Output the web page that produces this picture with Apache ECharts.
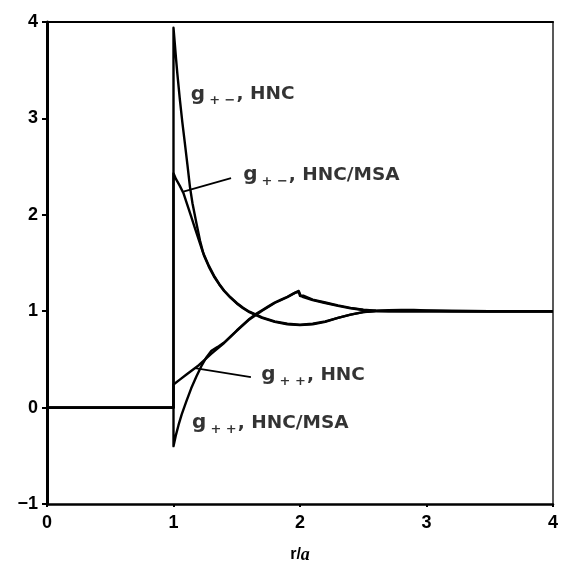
<!DOCTYPE html>
<html>
<head>
<meta charset="utf-8">
<script src="https://cdn.jsdelivr.net/npm/echarts@6/dist/echarts.min.js"></script>
<style>
  html, body { margin: 0; padding: 0; background: #fff; }
  #chart { width: 561px; height: 569px; }
</style>
</head>
<body>
<div id="chart"></div>
<script>
// Axis ranges (r/a and g)
const xTicks = [0, 1, 2, 3, 4];
const yTicks = [-1, 0, 1, 2, 3, 4];

// Hard-core region: g = 0 for r < a
const coreR = [0, 1];
const coreG = [0, 0];

// g+-, HNC
const rPmHnc = [1.00, 1.00, 1.01, 1.02, 1.03, 1.05, 1.07, 1.09, 1.11, 1.13, 1.15, 1.18, 1.21, 1.24, 1.28, 1.32, 1.36, 1.40, 1.45, 1.50, 1.55, 1.60, 1.70, 1.80, 1.90, 2.00, 2.10, 2.20, 2.30, 2.40, 2.50, 2.60, 2.70, 2.80, 2.90, 3.00, 3.20, 3.50, 4.00];
const gPmHnc = [0.00, 3.94, 3.78, 3.62, 3.47, 3.20, 2.96, 2.74, 2.52, 2.29, 2.12, 1.92, 1.73, 1.58, 1.46, 1.36, 1.28, 1.21, 1.14, 1.08, 1.03, 0.99, 0.93, 0.89, 0.865, 0.855, 0.865, 0.89, 0.93, 0.965, 0.99, 1.005, 1.01, 1.012, 1.012, 1.008, 1.002, 1.00, 1.00];

// g+-, HNC/MSA
const rPmMsa = [1.00, 1.00, 1.02, 1.05, 1.08, 1.11, 1.14, 1.17, 1.20, 1.23, 1.28, 1.32, 1.36, 1.40, 1.45, 1.50, 1.55, 1.60, 1.70, 1.80, 1.90, 2.00, 2.10, 2.20, 2.30, 2.40, 2.50, 2.60, 2.80, 3.00, 3.50, 4.00];
const gPmMsa = [0.00, 2.43, 2.37, 2.30, 2.22, 2.10, 1.98, 1.86, 1.74, 1.62, 1.47, 1.37, 1.285, 1.215, 1.145, 1.085, 1.035, 0.995, 0.935, 0.895, 0.87, 0.86, 0.87, 0.895, 0.93, 0.965, 0.99, 1.00, 1.005, 1.004, 1.00, 1.00];

// g++, HNC
const rPpHnc = [1.00, 1.00, 1.05, 1.10, 1.15, 1.20, 1.25, 1.30, 1.35, 1.40, 1.45, 1.50, 1.55, 1.60, 1.65, 1.70, 1.75, 1.80, 1.85, 1.90, 1.95, 1.99, 2.005, 2.03, 2.10, 2.20, 2.30, 2.40, 2.50, 2.60, 2.70, 2.80, 3.00, 3.50, 4.00];
const gPpHnc = [0.00, 0.24, 0.29, 0.34, 0.39, 0.44, 0.50, 0.56, 0.615, 0.67, 0.735, 0.80, 0.86, 0.92, 0.97, 1.01, 1.05, 1.09, 1.12, 1.15, 1.185, 1.21, 1.16, 1.16, 1.12, 1.09, 1.06, 1.035, 1.015, 1.005, 1.00, 0.998, 1.00, 1.00, 1.00];

// g++, HNC/MSA
const rPpMsa = [1.00, 1.00, 1.02, 1.04, 1.065, 1.10, 1.14, 1.18, 1.22, 1.26, 1.30, 1.35, 1.40, 1.45, 1.50, 1.60, 1.70, 1.80, 1.90, 1.96, 1.99, 2.00, 2.02, 2.10, 2.20, 2.30, 2.40, 2.50, 2.60, 2.80, 3.00, 4.00];
const gPpMsa = [0.00, -0.40, -0.28, -0.18, -0.07, 0.06, 0.20, 0.32, 0.43, 0.52, 0.59, 0.63, 0.675, 0.735, 0.795, 0.915, 1.005, 1.085, 1.145, 1.19, 1.20, 1.16, 1.15, 1.115, 1.085, 1.055, 1.03, 1.012, 1.003, 0.998, 1.00, 1.00];

// Curve labels: anchor (left-middle of text) in data coordinates
const labelSub  = ['+ \u2212', '+ \u2212', '+ +', '+ +'];
const labelName = ['HNC', 'HNC/MSA', 'HNC', 'HNC/MSA'];
const labelR    = [1.133, 1.547, 1.69, 1.143];
const labelG    = [3.25, 2.41, 0.34, -0.157];

// Leader lines from labels to curves
const leaderR = [[1.455, 1.078], [1.612, 1.17]];
const leaderG = [[2.38, 2.24], [0.315, 0.41]];

const zip = (xs, ys) => xs.map((x, i) => [x, ys[i]]);

function curve(name, rs, gs) {
  return {
    name: name,
    type: 'line',
    data: zip(coreR, coreG).concat(zip(rs, gs)),
    showSymbol: false,
    symbol: 'none',
    smooth: false,
    lineStyle: { color: '#000', width: 2.4, join: 'round' },
    z: 3
  };
}

const chart = echarts.init(document.getElementById('chart'), null, { renderer: 'canvas' });

const tickFont = {
  fontFamily: 'Liberation Sans, Arial, sans-serif',
  fontWeight: 'bold',
  fontSize: 18,
  color: '#000'
};

const labelFont = 'DejaVu Sans, sans-serif';

const series = [
  curve('g+- HNC', rPmHnc, gPmHnc),
  curve('g+- HNC/MSA', rPmMsa, gPmMsa),
  curve('g++ HNC', rPpHnc, gPpHnc),
  curve('g++ HNC/MSA', rPpMsa, gPpMsa)
];

leaderR.forEach((rs, i) => {
  series.push({
    type: 'line',
    data: zip(rs, leaderG[i]),
    showSymbol: false,
    symbol: 'none',
    lineStyle: { color: '#000', width: 1.8 },
    z: 4
  });
});

series.push({
  type: 'scatter',
  symbolSize: 1,
  itemStyle: { color: 'rgba(0,0,0,0)' },
  data: labelR.map((r, i) => ({ value: [r, labelG[i]], sub: labelSub[i], nm: labelName[i] })),
  label: {
    show: true,
    position: 'right',
    distance: 0,
    formatter: p => '{g|g}{s|' + p.data.sub + '}{t|, ' + p.data.nm + '}',
    rich: {
      g: { fontFamily: labelFont, fontWeight: 'bold', fontSize: 20, color: '#000' },
      s: { fontFamily: labelFont, fontWeight: 'bold', fontSize: 13, color: '#000', padding: [13, 1, 0, 4] },
      t: { fontFamily: labelFont, fontWeight: 'bold', fontSize: 18.5, color: '#000' }
    }
  },
  silent: true,
  z: 5
});

chart.setOption({
  animation: false,
  backgroundColor: '#fff',
  grid: { left: 47, right: 2, top: 22, bottom: 55, containLabel: false },
  xAxis: [
    {
      type: 'value',
      position: 'bottom',
      min: xTicks[0],
      max: xTicks[xTicks.length - 1],
      interval: 1,
      axisLine: { show: true, onZero: false, lineStyle: { color: '#000', width: 2.5 } },
      axisTick: { show: true, length: 3, lineStyle: { color: '#000', width: 2 } },
      axisLabel: Object.assign({ margin: 10, formatter: v => String(v) }, tickFont),
      splitLine: { show: false },
      name: '{s|r/}{i|a}',
      nameLocation: 'middle',
      nameGap: 42,
      nameTextStyle: {
        rich: {
          s: { fontFamily: 'Liberation Sans', fontWeight: 'bold', fontSize: 16, color: '#000' },
          i: { fontFamily: 'Liberation Serif', fontStyle: 'italic', fontWeight: 'bold', fontSize: 18, color: '#000' }
        }
      }
    },
    {
      type: 'value',
      position: 'top',
      min: xTicks[0],
      max: xTicks[xTicks.length - 1],
      axisLine: { show: true, onZero: false, lineStyle: { color: '#000', width: 2 } },
      axisTick: { show: false },
      axisLabel: { show: false },
      splitLine: { show: false }
    }
  ],
  yAxis: [
    {
      type: 'value',
      position: 'left',
      min: yTicks[0],
      max: yTicks[yTicks.length - 1],
      interval: 1,
      axisLine: { show: true, onZero: false, lineStyle: { color: '#000', width: 3 } },
      axisTick: { show: true, length: 5, lineStyle: { color: '#000', width: 2 } },
      axisLabel: Object.assign({ margin: 9, formatter: v => (v < 0 ? '\u2212' + Math.abs(v) : String(v)) }, tickFont),
      splitLine: { show: false }
    },
    {
      type: 'value',
      position: 'right',
      min: yTicks[0],
      max: yTicks[yTicks.length - 1],
      axisLine: { show: true, onZero: false, lineStyle: { color: '#222', width: 1.5 } },
      axisTick: { show: false },
      axisLabel: { show: false },
      splitLine: { show: false }
    }
  ],
  series: series
});
</script>
</body>
</html>
